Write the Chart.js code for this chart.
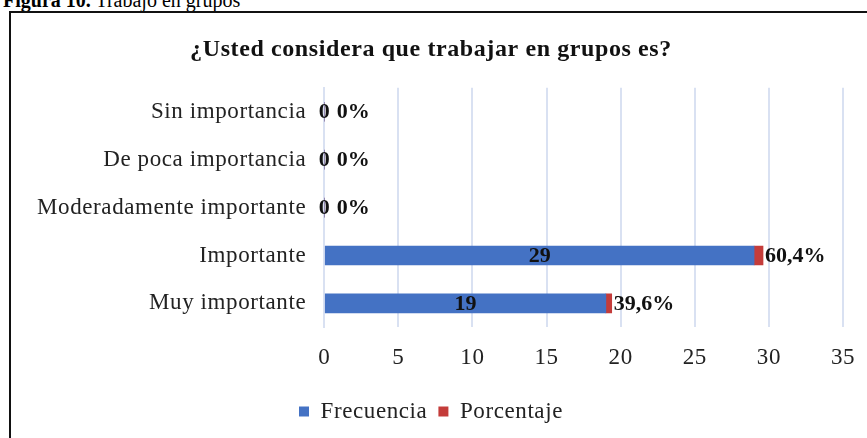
<!DOCTYPE html>
<html>
<head>
<meta charset="utf-8">
<script src="https://cdn.jsdelivr.net/npm/chart.js@4"></script>
<style>
  body { margin:0; background:#fff; width:867px; height:438px; overflow:hidden; position:relative; }
  #caption { position:absolute; left:3px; top:-10px; font:20px "Liberation Serif", serif; line-height:20px; color:#000; white-space:nowrap; }
  #box { position:absolute; left:9px; top:11px; width:858px; height:427px; border-left:2px solid #111; border-top:2px solid #111; }
  #wrap { position:absolute; left:0; top:0; width:856px; height:425px; }
</style>
</head>
<body>
<div id="caption"><b>Figura 10.</b> Trabajo en grupos</div>
<div id="box"><div id="wrap"><canvas id="chart"></canvas></div></div>
<script>
// ---- data ---- //
const categories = ["Sin importancia","De poca importancia","Moderadamente importante","Importante","Muy importante"];
const frecuencia = [0, 0, 0, 29, 19];
const porcentaje = [0, 0, 0, 0.604, 0.396];
const xTicks = [0, 5, 10, 15, 20, 25, 30, 35];

const SERIF = '"Liberation Serif", "Times New Roman", serif';

function fmtPct(v){
  if (!v) return "0%";
  return (v*100).toFixed(1).replace(".", ",") + "%";
}

// the original's text is set a little wide, so space the letters out
const spacing = {
  id: "spacing",
  beforeUpdate(chart){ chart.ctx.letterSpacing = "0.6px"; },
  beforeLayout(chart){ chart.ctx.letterSpacing = "0.6px"; },
  beforeDraw(chart){ chart.ctx.letterSpacing = "0.6px"; }
};

// value labels like the Excel original
const barLabels = {
  id: "barLabels",
  afterDatasetsDraw(chart){
    const ctx = chart.ctx;
    const m0 = chart.getDatasetMeta(0), m1 = chart.getDatasetMeta(1);
    ctx.save();
    ctx.letterSpacing = "0px";
    ctx.font = "bold 22px " + SERIF;
    ctx.fillStyle = "#111";
    ctx.textBaseline = "middle";
    m0.data.forEach((bar, i) => {
      const txt = String(frecuencia[i]);
      const cx = (bar.base + bar.x) / 2;
      ctx.textAlign = "center";
      ctx.fillText(txt, cx, bar.y + 1);
      const right = cx + ctx.measureText(txt).width / 2;
      const seg = m1.data[i];
      const px = Math.max(seg.x + 2, right + 7);
      ctx.textAlign = "left";
      ctx.fillText(fmtPct(porcentaje[i]), px, seg.y + 1);
    });
    ctx.restore();
  }
};

new Chart(document.getElementById("chart"), {
  type: "bar",
  data: {
    labels: categories,
    datasets: [
      { label: "Frecuencia", data: frecuencia, backgroundColor: "#4472C4", borderWidth: 0,
        barThickness: 19 },
      { label: "Porcentaje", data: porcentaje, backgroundColor: "#C43C3A", borderWidth: 0,
        barThickness: 19 }
    ]
  },
  plugins: [spacing, barLabels],
  options: {
    indexAxis: "y",
    responsive: true,
    maintainAspectRatio: false,
    animation: false,
    layout: { padding: { left: 8, right: 24, top: 7, bottom: 5 } },
    scales: {
      x: {
        stacked: true, min: 0, max: 35,
        afterBuildTicks: axis => { axis.ticks = xTicks.map(v => ({ value: v })); },
        afterFit: axis => { axis.paddingRight = 0; },
        grid: { color: "#d9e1f2", lineWidth: 2, drawTicks: false },
        border: { display: false },
        ticks: { padding: 17, color: "#222", font: { family: SERIF, size: 23 } }
      },
      y: {
        stacked: true,
        grid: { display: false, drawTicks: false },
        border: { display: true, color: "#d9e1f2", width: 2 },
        ticks: { padding: 18, color: "#222", font: { family: SERIF, size: 23 } }
      }
    },
    plugins: {
      title: {
        display: true,
        text: "¿Usted considera que trabajar en grupos es?",
        color: "#111",
        font: { family: SERIF, size: 24, weight: "bold" },
        padding: { top: 15, bottom: 24 }
      },
      legend: {
        position: "bottom",
        labels: { color: "#222", font: { family: SERIF, size: 23 }, boxWidth: 10, boxHeight: 10, padding: 11 }
      },
      tooltip: { enabled: false }
    }
  }
});
</script>
</body>
</html>
